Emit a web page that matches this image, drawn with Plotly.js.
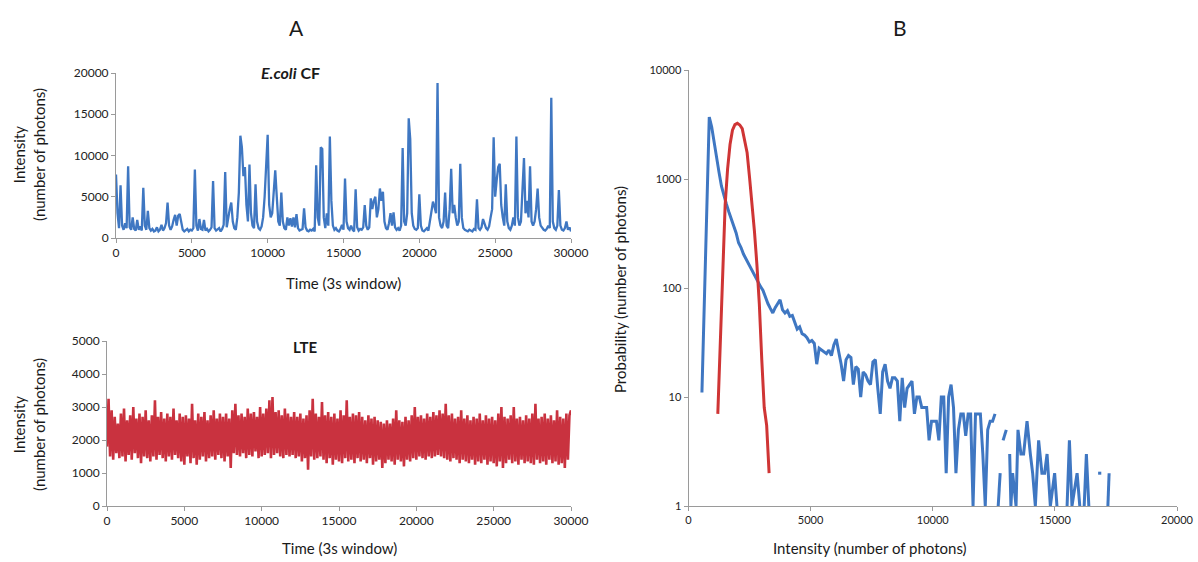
<!DOCTYPE html>
<html>
<head>
<meta charset="utf-8">
<script src="https://cdn.plot.ly/plotly-3.0.1.min.js"></script>
<style>html,body{margin:0;padding:0;background:#fff;}#chart{width:1198px;height:562px;}</style>
</head>
<body>
<div id="chart"></div>
<script>
// ---- Panel A (top): E.coli CF intensity trace, one sample every 100 time units ----
var ecoliStart = 0, ecoliStep = 100;
var ecoliIntensity = [
7700,3000,1200,6400,1500,1000,1800,1200,8700,1300,1000,2500,1100,900,2200,1000,1400,900,6100,1500,
1000,3300,1200,900,1100,800,900,1300,800,1000,1600,900,1200,1800,4300,1500,1000,1400,2200,2800,
1500,2700,2900,2000,1000,800,900,1100,800,1000,900,1200,8300,1500,900,2300,1100,1000,2200,900,
1100,800,1000,1300,6900,1200,900,1000,1200,800,1100,1600,8000,1300,2500,3500,4300,2000,1200,1000,
2500,5500,12400,11000,7500,8600,4000,2000,8900,3000,1500,1200,6500,2000,1200,1000,1400,2500,5000,9000,
12500,4000,2500,3000,6000,8200,5000,2000,1500,5500,2000,1200,1000,2500,1500,2400,1400,2500,1300,2900,
1200,900,1000,1100,3600,1300,900,800,1000,900,1100,800,8800,2500,1500,11000,10800,2500,1200,3000,
1500,12300,4500,1500,1000,1200,900,800,1100,1600,1000,7200,2000,1200,1000,1500,1000,800,5900,1300,
900,1100,1000,1300,4000,1500,1000,1300,4800,3500,4500,5000,2500,3500,6000,4500,5600,2000,1200,1000,
1800,3000,1500,3100,1300,1000,1200,900,1500,10900,2000,1500,3000,14500,12000,3000,1500,1100,1000,1200,
5300,1500,900,800,1000,1200,900,2000,3500,4400,3800,3000,18800,2500,1500,1200,2000,5500,1500,1200,
3500,8400,3000,4000,2500,1500,2000,9000,2500,1200,1000,900,800,1000,900,800,1100,1000,4700,1200,
1000,1300,2300,1800,1200,1000,1400,2500,3500,12200,5000,7000,8600,9000,4000,2500,1500,6500,2000,1200,
1000,1500,2500,1500,12300,2500,1500,2000,5500,9700,3000,4500,2500,8700,2000,1500,2000,3500,6000,2500,
1500,1200,1000,900,1100,1500,1200,17000,2000,1200,1000,1500,5800,1500,1000,900,1200,2000,1000,1300,
800];

// ---- Panel A (bottom): LTE intensity trace ----
var lteStart = 0, lteStep = 100;
var lteIntensity = [
1800,3250,1500,2900,1400,2700,1600,2500,1450,2800,1500,2950,1350,2600,1550,2750,1400,3000,1600,2650,
1450,2800,1300,2700,1500,2900,1450,2600,1350,2750,1500,3200,1400,2700,1550,2850,1450,2650,1350,2800,
1500,2700,1400,2950,1550,2600,1450,2800,1350,2700,1250,2750,1500,2650,1300,3100,1450,2600,1250,2800,
1400,2700,1500,2850,1350,2600,1450,2750,1500,2900,1400,2650,1550,2800,1450,2700,1350,2800,1500,2650,
1150,2900,1600,3100,1550,2750,1500,2800,1600,2700,1450,2950,1550,2800,1500,2850,1650,2700,1450,3000,
1500,2800,1550,2950,1600,3200,1450,3300,1550,2850,1600,2900,1500,2750,1450,2950,1550,2800,1500,2700,
1550,2850,1450,2700,1500,2800,1350,2650,1450,2750,1100,2900,1500,3250,1400,2800,1450,2700,1500,3150,
1400,2750,1300,2850,1450,2700,1250,2800,1400,2650,1350,2900,1300,2750,1450,3200,1350,2700,1400,2800,
1300,2750,1450,2850,1350,2700,1400,2600,1300,2750,1450,2650,1250,2700,1350,2600,1400,2550,1150,2500,
1300,2600,1400,2500,1350,2650,1250,2900,1400,2600,1350,2550,1200,2700,1400,2600,1350,2750,1450,3000,
1400,2700,1500,2750,1450,2650,1400,2800,1500,2700,1450,2850,1500,2750,1550,2900,1500,2800,1450,3100,
1400,2750,1350,2800,1450,2650,1400,2700,1300,2900,1400,2650,1350,2750,1300,2600,1400,2700,1250,2650,
1350,2800,1300,2600,1400,2750,1250,2650,1350,2700,1300,2600,1200,2800,1350,3000,1150,2700,1300,2650,
1400,2750,1300,3000,1350,2650,1250,2700,1400,2600,1300,2750,1350,2650,1300,2800,1250,3100,1400,2650,
1300,2700,1350,2800,1250,2650,1400,2750,1300,2600,1350,2900,1250,2700,1300,2650,1150,2800,1400,2750,
2900];

// ---- Panel B: intensity histograms (log y) ----
// E.coli CF histogram, bins from 550 every 100 up to 12550
var ecoliHistStart = 550, ecoliHistStep = 100;
var ecoliHist = [
11,75,540,3700,3000,2100,1600,1150,860,700,
590,500,430,385,320,260,235,205,185,170,
150,136,125,112,103,95,82,72,65,59,
66,72,78,63,59,62,55,56,48,42,
44,38,37,35,32,33,31,20,28,27,
26,25,27,24,30,34,26,20,14,22,
24,23,13,19,18,10,17,16,14,13,
21,22,12,7,17,20,14,12,15,15,
14,6,15,8,12,13,14,7,10,10,
8,8,8,4,6,6,6,4,10,10,
2,10,13,8,2,5,7,7,4.4,7,
7,1,7,7,7,3,1,5,6,6,
7];
// E.coli CF histogram sparse tail (null = empty bin)
var ecoliTailIntensity = [12680,12760,12820,12880,13010,13080,13150,13200,13270,13410,13490,13610,13720,13860,13995,14090,14200,14335,14470,14580,14680,14815,14990,15085,15300,15500,15595,15700,15910,16020,16150,16200,16290,16390,16600,16770,16900,17050,17170,17220];
var ecoliTailCount = [1,2,null,4,5,null,3,1,2,1,5,3,3,6,3,2,1,4,2,2,3,1,2,1,null,1,4,1,2,1,null,1,3,1,null,2,2,null,1,2];
// LTE histogram, bins from 1200 every 100
var lteHistStart = 1200, lteHistStep = 100;
var lteHist = [7,32,138,575,1230,2070,2800,3150,3240,3130,2900,2300,1740,1030,600,330,165,71,22,8,5.5,2];

var xTicksTime = [0,5000,10000,15000,20000,25000,30000];
var yTicksEcoli = [0,5000,10000,15000,20000];
var yTicksLte = [0,1000,2000,3000,4000,5000];
var xTicksHist = [0,5000,10000,15000,20000];
var yTicksHist = [1,10,100,1000,10000];

var BLUE = '#3f77c2', RED_LTE = '#c9323f', RED_H = '#cf3535';
var FONT = 'Lato, "Open Sans", sans-serif';
var W = 1198, H = 562;
function px(x){return x/W;}
function py(y){return 1 - y/H;}
function labels(v){return v.map(function(t){return String(t);});}

var traces = [
  {x0: ecoliStart, dx: ecoliStep, y: ecoliIntensity, type:'scatter', mode:'lines',
   line:{color:BLUE, width:2.3}, xaxis:'x', yaxis:'y', hoverinfo:'skip'},
  {x0: lteStart, dx: lteStep, y: lteIntensity, type:'scatter', mode:'lines',
   line:{color:RED_LTE, width:2.6}, xaxis:'x2', yaxis:'y2', hoverinfo:'skip'},
  {x0: ecoliHistStart, dx: ecoliHistStep, y: ecoliHist, type:'scatter', mode:'lines',
   line:{color:BLUE, width:3}, xaxis:'x3', yaxis:'y3', hoverinfo:'skip'},
  {x: ecoliTailIntensity, y: ecoliTailCount, type:'scatter', mode:'lines', connectgaps:false,
   line:{color:BLUE, width:3}, xaxis:'x3', yaxis:'y3', hoverinfo:'skip'},
  {x0: lteHistStart, dx: lteHistStep, y: lteHist, type:'scatter', mode:'lines',
   line:{color:RED_H, width:3}, xaxis:'x3', yaxis:'y3', hoverinfo:'skip'}
];

function ax(extra){
  var a = {showgrid:false, zeroline:false, showline:true, linecolor:'#9a9a9a', linewidth:1,
    ticks:'outside', ticklen:4, tickcolor:'#9a9a9a', tickwidth:1, tickmode:'array',
    tickfont:{family:FONT, size:12, color:'#222'}, fixedrange:true};
  for (var k in extra) a[k] = extra[k];
  return a;
}

function ann(text, x, y, size, extra){
  var a = {text:text, x:px(x), y:py(y), xref:'paper', yref:'paper', showarrow:false,
    xanchor:'center', yanchor:'middle', font:{size:size, family:FONT, color:'#1a1a1a'}};
  for (var k in extra) a[k] = extra[k];
  return a;
}

var layout = {
  width: W, height: H, margin:{l:0,r:0,t:0,b:0},
  paper_bgcolor:'#fff', plot_bgcolor:'rgba(0,0,0,0)', showlegend:false,
  font:{family:FONT, color:'#222'},
  xaxis: ax({domain:[px(116),px(571)], range:[0,30000], tickvals:xTicksTime, ticktext:labels(xTicksTime), anchor:'y'}),
  yaxis: ax({domain:[py(238),py(73)], range:[0,20000], tickvals:yTicksEcoli, ticktext:labels(yTicksEcoli), anchor:'x'}),
  xaxis2: ax({domain:[px(107),px(571)], range:[0,30000], tickvals:xTicksTime, ticktext:labels(xTicksTime), anchor:'y2'}),
  yaxis2: ax({domain:[py(506),py(341)], range:[0,5000], tickvals:yTicksLte, ticktext:labels(yTicksLte), anchor:'x2'}),
  xaxis3: ax({domain:[px(688.5),px(1177)], range:[0,20000], tickvals:xTicksHist, ticktext:labels(xTicksHist), anchor:'y3',
              tickfont:{family:FONT, size:11, color:'#222'}}),
  yaxis3: ax({domain:[py(506),py(70)], type:'log', range:[0,4], tickvals:yTicksHist, ticktext:labels(yTicksHist), anchor:'x3',
              tickfont:{family:FONT, size:11, color:'#222'}}),
  annotations: [
    ann('A', 296, 28, 21),
    ann('B', 900, 28, 21),
    ann('<b><i>E.coli</i> CF</b>', 290, 73, 16),
    ann('<b>LTE</b>', 305, 347, 15),
    ann('Intensity<br>(number of photons)', 29, 155, 15, {textangle:-90}),
    ann('Intensity<br>(number of photons)', 29, 425, 15, {textangle:-90}),
    ann('Time (3s window)', 343, 283, 15),
    ann('Time (3s window)', 339, 548, 15),
    ann('Intensity (number of photons)', 870, 548, 15),
    ann('Probability (number of photons)', 620, 290, 15, {textangle:-90})
  ]
};

Plotly.newPlot('chart', traces, layout, {staticPlot:true, displayModeBar:false});
</script>
</body>
</html>
